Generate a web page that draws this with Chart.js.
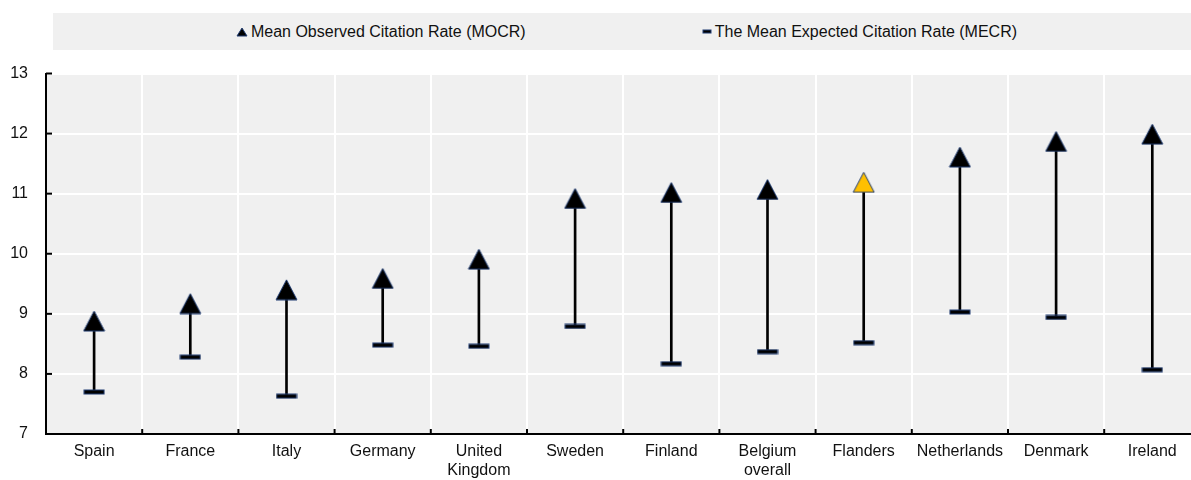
<!DOCTYPE html>
<html>
<head>
<meta charset="utf-8">
<script src="https://cdn.jsdelivr.net/npm/chart.js@4/dist/chart.umd.min.js"></script>
<style>
  html, body { margin: 0; padding: 0; overflow: hidden; background: #fff; }
  #wrap { position: relative; width: 1191px; height: 480px; overflow: hidden; }
  #c { display: block; }
  #legend { position: absolute; left: 53px; top: 13px; width: 1147px; height: 37px; background: #f0f0f0;
    display: flex; justify-content: center; align-items: center; gap: 176px;
    font-family: 'Liberation Sans', Arial, sans-serif; font-size: 16px; color: #111; }
  .item { display: flex; align-items: center; gap: 3px; white-space: nowrap; }
</style>
</head>
<body>
<div id="wrap">
  <canvas id="c" width="1191" height="480"></canvas>
  <div id="legend"></div>
</div>
<script>
// ---- data ----
const categories = ['Spain', 'France', 'Italy', 'Germany', ['United', 'Kingdom'], 'Sweden', 'Finland',
  ['Belgium', 'overall'], 'Flanders', 'Netherlands', 'Denmark', 'Ireland'];
const mocr = [8.88, 9.17, 9.40, 9.59, 9.91, 10.92, 11.02, 11.07, 11.19, 11.61, 11.87, 11.99];
const mecr = [7.70, 8.28, 7.63, 8.48, 8.46, 8.79, 8.17, 8.37, 8.52, 9.03, 8.94, 8.07];
const seriesNames = ['Mean Observed Citation Rate (MOCR)', 'The Mean Expected Citation Rate (MECR)'];
const yMin = 7, yMax = 13, yStep = 1;
const highlighted = 'Flanders';

// ---- styles ----
const FONT = "'Liberation Sans', Arial, sans-serif";
const EDGE = '#1f3b70';
const PLOT_RIGHT = 1200.4; // plot area continues past the visible right edge (cropped, as in the original)

function triangleCanvas(fill, w, h) {
  const c = document.createElement('canvas');
  c.width = w + 2; c.height = h + 2;
  const g = c.getContext('2d');
  g.beginPath();
  g.moveTo(c.width / 2, 1);
  g.lineTo(c.width - 1, h + 1);
  g.lineTo(1, h + 1);
  g.closePath();
  g.fillStyle = fill; g.fill();
  g.lineWidth = 1; g.strokeStyle = EDGE; g.stroke();
  return c;
}
function dashCanvas(w, h) {
  const c = document.createElement('canvas');
  c.width = w + 2; c.height = h + 2;
  const g = c.getContext('2d');
  g.fillStyle = '#000';
  g.fillRect(1, 1, w, h);
  g.lineWidth = 1; g.strokeStyle = EDGE;
  g.strokeRect(1, 1, w, h);
  return c;
}
const triBlack = triangleCanvas('#000', 21, 20);
const triYellow = triangleCanvas('#ffc000', 21, 20);
const dash = dashCanvas(20, 4);

const labelText = l => Array.isArray(l) ? l.join(' ') : l;

// ---- legend (HTML) ----
const legendEl = document.getElementById('legend');
const legTri = triangleCanvas('#000', 10, 8);
const legDash = dashCanvas(8, 3);
[[legTri, seriesNames[0]], [legDash, seriesNames[1]]].forEach(([mk, txt]) => {
  const it = document.createElement('div'); it.className = 'item';
  it.appendChild(mk);
  const s = document.createElement('span'); s.textContent = txt;
  it.appendChild(s);
  legendEl.appendChild(it);
});

// ---- plugins ----
const extendRight = {
  id: 'extendRight',
  afterLayout(chart) {
    const s = chart.scales.x, a = chart.chartArea;
    s.right = PLOT_RIGHT; s.width = s.right - s.left; s.configure();
    a.right = PLOT_RIGHT; a.width = a.right - a.left;
  }
};
const plotBg = {
  id: 'plotBg',
  beforeDraw(chart) {
    const {ctx, chartArea: a} = chart;
    ctx.save(); ctx.fillStyle = '#f0f0f0';
    ctx.fillRect(a.left, a.top, a.right - a.left, a.bottom - a.top);
    ctx.restore();
  }
};
const innerTicks = {
  id: 'innerTicks',
  afterDraw(chart) {
    const {ctx, chartArea: a, scales} = chart;
    ctx.save(); ctx.strokeStyle = '#000'; ctx.lineWidth = 2;
    scales.y.ticks.forEach((t, i) => {
      const y = scales.y.getPixelForTick(i);
      ctx.beginPath(); ctx.moveTo(a.left, y); ctx.lineTo(a.left + 6, y); ctx.stroke();
    });
    const n = categories.length;
    for (let i = 1; i < n; i++) {
      const x = (scales.x.getPixelForValue(i - 1) + scales.x.getPixelForValue(i)) / 2;
      ctx.beginPath(); ctx.moveTo(x, a.bottom); ctx.lineTo(x, a.bottom - 5); ctx.stroke();
    }
    ctx.restore();
  }
};

new Chart(document.getElementById('c'), {
  data: {
    labels: categories,
    datasets: [
      {
        type: 'line', label: seriesNames[0], data: mocr, showLine: false, order: 1,
        pointStyle: mocr.map((v, i) => labelText(categories[i]) === highlighted ? triYellow : triBlack),
        pointRadius: 11, pointHoverRadius: 11, clip: false
      },
      {
        type: 'line', label: seriesNames[1], data: mecr, showLine: false, order: 2,
        pointStyle: dash, pointRadius: 11, pointHoverRadius: 11, clip: false
      },
      {
        type: 'bar', label: 'range', data: categories.map((c, i) => [mecr[i], mocr[i]]), order: 3,
        backgroundColor: '#000', borderWidth: 0, barThickness: 2, grouped: false
      }
    ]
  },
  options: {
    responsive: false, animation: false, devicePixelRatio: 1,
    layout: { autoPadding: false, padding: { top: 73.5, left: 0, right: 0, bottom: 0 } },
    plugins: { legend: { display: false }, tooltip: { enabled: false } },
    scales: {
      x: {
        type: 'category', offset: true,
        grid: { color: '#fff', lineWidth: 2, offset: true, drawTicks: false },
        border: { color: '#000', width: 2 },
        ticks: { color: '#111', padding: 8, maxRotation: 0, autoSkip: false,
          font: { family: FONT, size: 16, lineHeight: 1.2 } },
        afterFit(s) { s.height = 46; s.paddingLeft = 0; s.paddingRight = 0; }
      },
      y: {
        min: yMin, max: yMax,
        grid: { color: '#fff', lineWidth: 2, drawTicks: false },
        border: { color: '#000', width: 2 },
        ticks: { stepSize: yStep, color: '#111', padding: 18, font: { family: FONT, size: 16 } },
        afterFit(s) { s.width = 46; }
      }
    }
  },
  plugins: [extendRight, plotBg, innerTicks]
});
</script>
</body>
</html>
